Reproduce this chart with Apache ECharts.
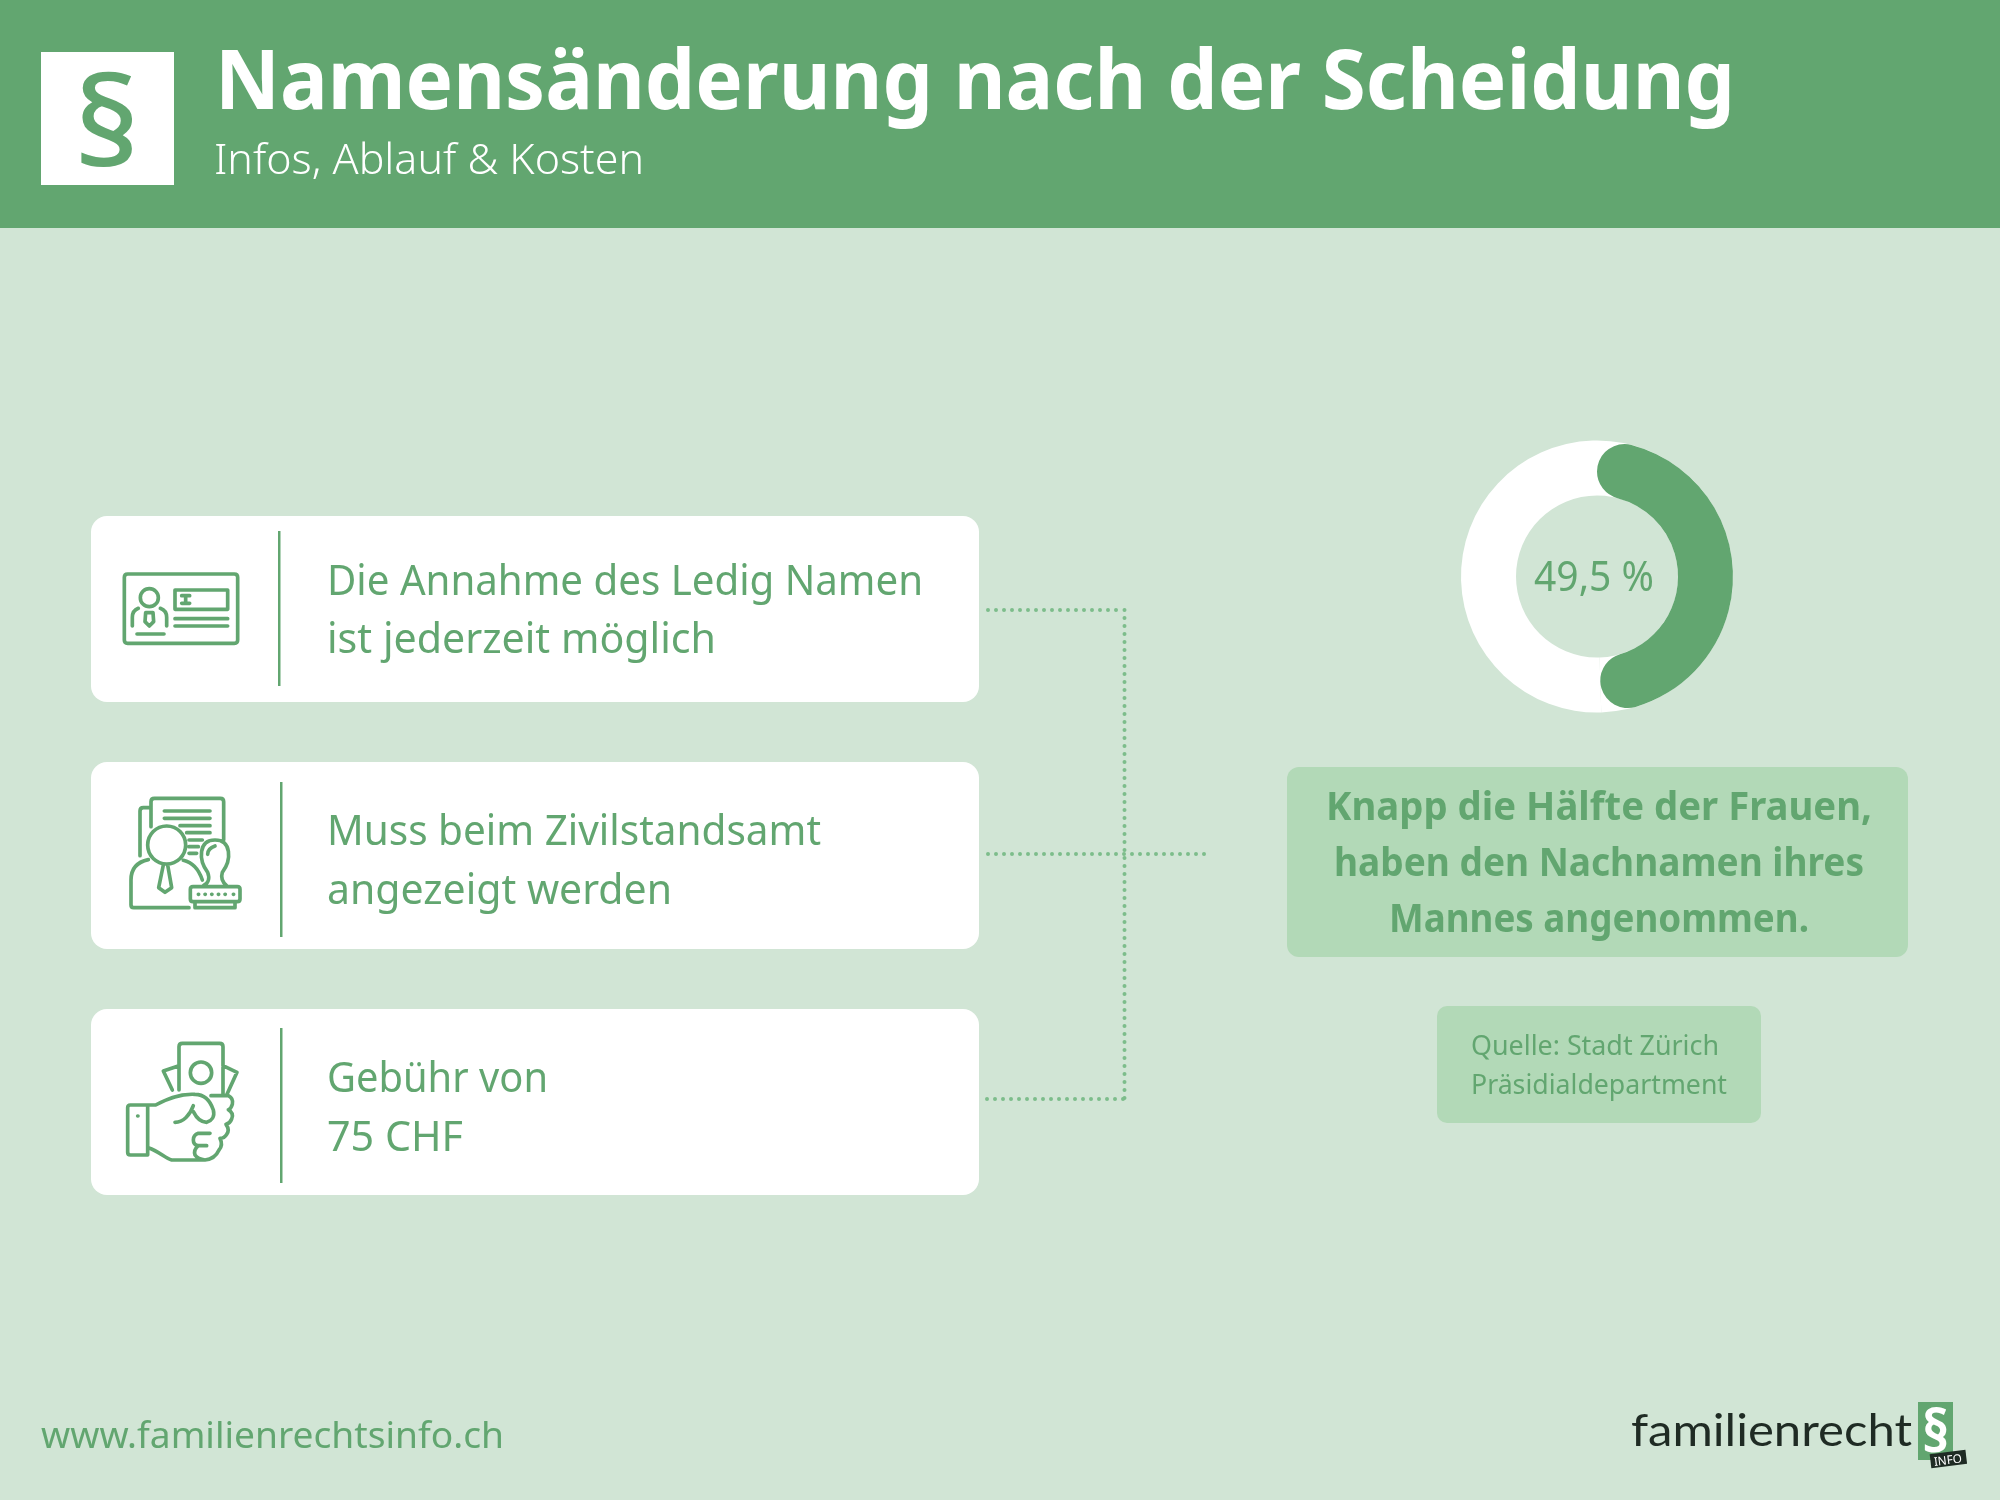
<!DOCTYPE html>
<html>
<head>
<meta charset="utf-8">
<title>Namensänderung nach der Scheidung</title>
<style>html,body{margin:0;padding:0;background:#d1e5d5}#chart{width:2000px;height:1500px}</style>
<script src="https://cdn.jsdelivr.net/npm/echarts@6/dist/echarts.min.js"></script>
</head>
<body>
<div id="chart"></div>
<script>
// values
const shareNames = ['Nachname des Mannes angenommen', 'Andere'];
const shareValues = [49.5, 50.5];
const title = 'Namensänderung nach der Scheidung';
const subtitle = 'Infos, Ablauf & Kosten';
const card1 = ['Die Annahme des Ledig Namen', 'ist jederzeit möglich'];
const card2 = ['Muss beim Zivilstandsamt', 'angezeigt werden'];
const card3 = ['Gebühr von', '75 CHF'];
const boxLines = ['Knapp die Hälfte der Frauen,', 'haben den Nachnamen ihres', 'Mannes angenommen.'];
const sourceLines = ['Quelle: Stadt Zürich', 'Präsidialdepartment'];
const website = 'www.familienrechtsinfo.ch';
const logoWord = 'familienrecht';

const GREEN = '#62a670', PALE = '#d1e5d5', BOX = '#b2d9b7', DOT = '#7dbd8b', FONT = '"Noto Sans"';
const measure = document.createElement('canvas').getContext('2d');
const els = [];

function rect(x, y, w, h, fill, r) {
  els.push({type: 'rect', shape: {x: x, y: y, width: w, height: h, r: r || 0}, style: {fill: fill}, z: 1});
}
// text is placed by its baseline and squeezed to the width it has in the picture
function label(str, x, base, size, weight, width, fill, opt) {
  const font = weight + ' ' + size + 'px ' + (opt && opt.family || FONT);
  measure.font = font;
  const sx = width / measure.measureText(str).width;
  els.push({
    type: 'text', x: x, y: base - 0.29 * size, scaleX: sx, rotation: opt && opt.rot || 0, z: 5,
    style: {text: str, font: font, fill: fill || GREEN, align: 'left', verticalAlign: 'middle'}
  });
}
function dotted(x1, y1, x2, y2) {
  els.push({type: 'line', shape: {x1: x1, y1: y1, x2: x2, y2: y2}, z: 3,
    style: {stroke: DOT, lineWidth: 4, lineDash: [0, 8], lineCap: 'round'}});
}
function circle(cx, cy, r) {
  return 'M' + (cx + r) + ' ' + cy + 'A' + r + ' ' + r + ' 0 1 1 ' + (cx - r) + ' ' + cy + 'A' + r + ' ' + r + ' 0 1 1 ' + (cx + r) + ' ' + cy + 'Z';
}
// icons are traced in 3x zoom units
function icon(name, x, y, d) {
  echarts.graphic.registerShape(name, echarts.graphic.extendPath(d, {}));
  els.push({type: name, x: x, y: y, scaleX: 1 / 3, scaleY: 1 / 3, z: 3,
    style: {fill: 'none', stroke: GREEN, lineWidth: 11, lineCap: 'round', lineJoin: 'round'}});
}

// header
rect(0, 0, 2000, 228, GREEN);
rect(41, 52, 133, 133, '#fff');
label('§', 74, 167, 124, 500, 66);
label(title, 215, 109, 83, 700, 1520, '#fff');
label(subtitle, 214, 174, 42, 300, 430, '#fff');

// cards
rect(91, 516, 888, 186, '#fff', 16);
rect(91, 762, 888, 187, '#fff', 16);
rect(91, 1009, 888, 186, '#fff', 16);
rect(278, 531, 2.5, 155, GREEN);
rect(280, 782, 2.5, 155, GREEN);
rect(280, 1028, 2.5, 155, GREEN);
label(card1[0], 327, 595, 42, 400, 596);
label(card1[1], 327, 653, 42, 400, 389);
label(card2[0], 327, 845, 42, 400, 494);
label(card2[1], 327, 904, 42, 400, 345);
label(card3[0], 327, 1092, 42, 400, 221);
label(card3[1], 327, 1151, 42, 400, 136);

icon('iconCard', 115, 560,
  'M38 42H358Q368 42 368 52V240Q368 250 358 250H38Q28 250 28 240V52Q28 42 38 42Z' + circle(103, 113, 27) +
  'M70 145Q52 152 52 172V198M136 145Q155 152 155 172V198M92 158L90 185L103 198L116 185L114 158Z' +
  'M66 222H147M180 90H338V148H180ZM200 107H224M212 107V130M200 130H224M180 176H338M180 198H338');
icon('iconStamp', 115, 785,
  'M108 125V50Q108 40 118 40H316Q326 40 326 50V165M108 68H85Q75 68 75 78V212' +
  'M148 78H285M148 100H285M195 122H285M215 143H285M222 165H262M222 185H250M222 205H245' + circle(155, 180, 57) +
  'M100 224Q48 235 48 285V360Q48 368 56 368H222M205 226Q245 235 262 285M145 240L131 308L150 322L170 308L158 240' +
  'M278 262C250 225 250 165 300 165C350 165 350 225 322 262C318 275 320 290 335 302M278 262C285 280 280 295 265 302M278 208C278 195 285 188 300 183' +
  'M234 305H367Q375 305 375 313V342Q375 350 367 350H234Q226 350 226 342V313Q226 305 234 305Z' +
  'M250 328h1M270 328h1M290 328h1M310 328h1M330 328h1M355 328h1M240 350V368H360V350');
icon('iconMoney', 115, 1035,
  'M192 165V35Q192 25 202 25H314Q324 25 324 35V178' + circle(258, 113, 32) +
  'M192 92L145 108L172 165M324 92L366 112L335 180M46 210H98V360H46Q38 360 38 352V218Q38 210 46 210ZM68 243h1' +
  'M98 210H122C150 195 190 175 240 178C268 178 285 195 295 225C300 245 290 258 275 262M180 262C205 262 225 240 235 212M235 230C245 250 260 262 275 262' +
  'M288 182H340Q356 190 352 208Q348 222 340 224Q358 235 350 252Q345 265 333 268Q345 285 335 298Q328 310 315 310Q325 330 312 345Q300 372 270 375H170C150 370 135 350 100 338' +
  'M285 295H250Q235 300 235 315Q235 330 250 332H275M250 332Q235 345 240 360Q248 372 270 375');

// dotted connector
dotted(988, 610, 1124, 610);
dotted(1124.5, 610, 1124.5, 1099);
dotted(988, 854, 1210, 854);
dotted(987, 1099, 1124, 1099);

// text boxes on the right
rect(1287, 767, 621, 190, BOX, 12);
rect(1437, 1006, 324, 117, BOX, 10);
label(boxLines[0], 1326, 820, 39, 700, 546);
label(boxLines[1], 1334, 876, 39, 700, 530);
label(boxLines[2], 1389, 932, 39, 700, 420);
label(sourceLines[0], 1471, 1055, 27, 400, 248);
label(sourceLines[1], 1471, 1094, 27, 400, 256);
label(String(shareValues[0]).replace('.', ',') + ' %', 1534, 591, 41, 400, 120);

// footer
label(website, 41, 1448, 37, 400, 463);
label(logoWord, 1631, 1445, 44, 400, 281, '#1f2b24', {family: 'Lato'});
rect(1918, 1402, 35, 58, GREEN);
label('§', 1922, 1452, 60, 700, 27, '#fff');
els.push({type: 'rect', x: 1948.5, y: 1460, rotation: 7 * Math.PI / 180, z: 4,
  shape: {x: -18, y: -8, width: 36, height: 14}, style: {fill: '#1f2b24'}});
label('INFO', 1934, 1466, 12, 400, 28, '#fff', {rot: 7 * Math.PI / 180});

const chart = echarts.init(document.getElementById('chart'), null, {width: 2000, height: 1500});
chart.setOption({
  backgroundColor: PALE,
  animation: false,
  graphic: {elements: els},
  series: [
    {
      type: 'pie', center: [1597, 576.5], radius: [81, 136], startAngle: 90, silent: true, z: 2,
      label: {show: false}, labelLine: {show: false}, itemStyle: {color: '#fff'},
      data: shareNames.map((n, i) => ({name: n, value: shareValues[i]}))
    },
    {
      type: 'pie', center: [1597, 576.5], radius: [81, 136], startAngle: 90, silent: true, z: 3,
      label: {show: false}, labelLine: {show: false},
      data: shareNames.map((n, i) => ({
        name: n, value: shareValues[i],
        itemStyle: i === 0 ? {color: GREEN, borderRadius: 27.5} : {color: 'transparent'}
      }))
    }
  ]
});
</script>
</body>
</html>
